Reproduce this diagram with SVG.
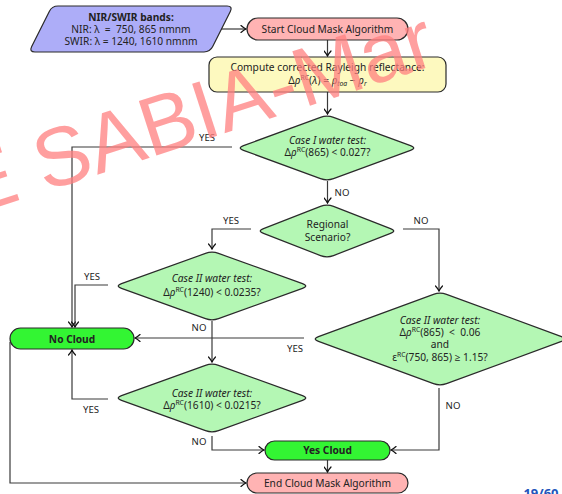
<svg xmlns="http://www.w3.org/2000/svg" width="562" height="494" viewBox="0 0 562 494">
<style>
text{font-family:"Noto Sans","Open Sans",sans-serif;font-size:10.2px;fill:#222;text-anchor:middle}
.b{font-weight:bold}
.i{font-style:italic}
.lbl{font-size:9.6px}
.sup{font-size:6.8px}
.dia{fill:#b4f7b4;stroke:#2a2a2a;stroke-width:1.2}
.pink{fill:#ffb3b3;stroke:#2a2a2a;stroke-width:1.2}
.green{fill:#33f533;stroke:#2a2a2a;stroke-width:1.2}
.con{fill:none;stroke:#3a3a3a;stroke-width:1.2}
.arr{marker-end:url(#ah)}
</style>
<defs>
<marker id="ah" viewBox="-6 -4 7 8" refX="0" refY="0" markerWidth="7" markerHeight="8" orient="auto" markerUnits="userSpaceOnUse">
<path d="M-5,-3.5 Q-2,-0.8 0,0 Q-2,0.8 -5,3.5" fill="none" stroke="#111" stroke-width="1.2" stroke-linecap="round"/>
</marker>
</defs>
<rect width="562" height="494" fill="#fff"/>

<g id="connectors">
<path class="con arr" d="M221,29 H246"/>
<path class="con arr" d="M327.5,40 V56"/>
<path class="con arr" d="M327.5,92 V114"/>
<path class="con arr" d="M232,147 H72 V327"/>
<path class="con arr" d="M327.5,181 V203"/>
<path class="con arr" d="M251,229 H212 V249"/>
<path class="con arr" d="M403,229 H439 V291"/>
<path class="con arr" d="M108,285 H75 V327"/>
<path class="con arr" d="M212,321 V362"/>
<path class="con arr" d="M304,338 H135"/>
<path class="con arr" d="M108,399 H72 V350"/>
<path class="con arr" d="M212,436 V450 H264"/>
<path class="con arr" d="M439,388 V450 H391"/>
<path class="con arr" d="M327.5,460 V472"/>
<path class="con arr" d="M10,342 V483 H246"/>
<text class="lbl" x="207" y="141">YES</text>
<text class="lbl" x="342" y="196">NO</text>
<text class="lbl" x="231" y="224">YES</text>
<text class="lbl" x="421" y="224">NO</text>
<text class="lbl" x="92" y="280">YES</text>
<text class="lbl" x="199" y="331">NO</text>
<text class="lbl" x="295" y="352">YES</text>
<text class="lbl" x="91" y="413">YES</text>
<text class="lbl" x="199" y="445">NO</text>
<text class="lbl" x="453" y="409">NO</text>
</g>

<g id="input">
<path d="M58,6 H227 Q233,6 230.3,11.4 L212.7,46.6 Q210,52 204,52 H35 Q29,52 31.7,46.6 L49.3,11.4 Q52,6 58,6 Z" fill="#adadf8" stroke="#2a2a2a" stroke-width="1.2"/>
<text class="b" x="131" y="21">NIR/SWIR bands:</text>
<text x="131" y="33">NIR: λ &#160;= &#160;750, 865 nmnm</text>
<text x="131" y="45">SWIR: λ = 1240, 1610 nmnm</text>
</g>

<g id="start">
<rect class="pink" x="247" y="18" width="161" height="22" rx="11"/>
<text x="327.5" y="32.5">Start Cloud Mask Algorithm</text>
</g>

<g id="compute">
<rect x="209" y="57" width="237" height="35" rx="8" fill="#fdf9bf" stroke="#2a2a2a" stroke-width="1.2"/>
<text x="327.5" y="70.5">Compute corrected Rayleigh reflectance:</text>
<text x="327.5" y="84">Δ<tspan class="i">ρ</tspan><tspan class="sup" dy="-4">RC</tspan><tspan dy="4">(</tspan><tspan class="i">λ</tspan>) = <tspan class="i">ρ</tspan><tspan class="sup i" dy="2">toa</tspan><tspan dy="-2"> − </tspan><tspan class="i">ρ</tspan><tspan class="sup i" dy="2">r</tspan></text>
</g>

<g id="case1">
<path class="dia" d="M333.5,117.4 L410.5,145.6 Q417,148 410.5,150.4 L333.5,178.6 Q327,181 320.5,178.6 L243.5,150.4 Q237,148 243.5,145.6 L320.5,117.4 Q327,115 333.5,117.4 Z"/>
<text class="i" x="327.5" y="143.5">Case I water test:</text>
<text x="327.5" y="156">Δ<tspan class="i">ρ</tspan><tspan class="sup" dy="-4">RC</tspan><tspan dy="4">(865) &lt; 0.027?</tspan></text>
</g>

<g id="regional">
<path class="dia" d="M333.5,206.4 L390.5,228.6 Q397,231 390.5,233.4 L333.5,255.6 Q327,258 320.5,255.6 L263.5,233.4 Q257,231 263.5,228.6 L320.5,206.4 Q327,204 333.5,206.4 Z"/>
<text x="327.5" y="227.5">Regional</text>
<text x="327.5" y="240.5">Scenario?</text>
</g>

<g id="case2-1240">
<path class="dia" d="M218.5,253.4 L302.5,283.6 Q309,286 302.5,288.4 L218.5,318.6 Q212,321 205.5,318.6 L121.5,288.4 Q115,286 121.5,283.6 L205.5,253.4 Q212,251 218.5,253.4 Z"/>
<text class="i" x="212" y="281.5">Case II water test:</text>
<text x="212" y="295.5">Δ<tspan class="i">ρ</tspan><tspan class="sup" dy="-4">RC</tspan><tspan dy="4">(1240) &lt; 0.0235?</tspan></text>
</g>

<g id="case2-1610">
<path class="dia" d="M218.5,365.4 L302.5,395.6 Q309,398 302.5,400.4 L218.5,430.6 Q212,433 205.5,430.6 L121.5,400.4 Q115,398 121.5,395.6 L205.5,365.4 Q212,363 218.5,365.4 Z"/>
<text class="i" x="212" y="396.5">Case II water test:</text>
<text x="212" y="408.5">Δ<tspan class="i">ρ</tspan><tspan class="sup" dy="-4">RC</tspan><tspan dy="4">(1610) &lt; 0.0215?</tspan></text>
</g>

<g id="case2-865">
<path class="dia" d="M446.5,294.4 L561.5,336.6 Q568,339 561.5,341.4 L446.5,383.6 Q440,386 433.5,383.6 L318.5,341.4 Q312,339 318.5,336.6 L433.5,294.4 Q440,292 446.5,294.4 Z"/>
<text class="i" x="440" y="323.5">Case II water test:</text>
<text x="440" y="336">Δ<tspan class="i">ρ</tspan><tspan class="sup" dy="-4">RC</tspan><tspan dy="4">(865) &#160;&lt; &#160;0.06</tspan></text>
<text x="440" y="348">and</text>
<text x="440" y="360.5">ε<tspan class="sup" dy="-4">RC</tspan><tspan dy="4">(750, 865) ≥ 1.15?</tspan></text>
</g>

<g id="nocloud">
<rect class="green" x="10" y="328" width="124" height="21" rx="10.5"/>
<text class="b" x="72" y="342.5">No Cloud</text>
</g>

<g id="yescloud">
<rect class="green" x="265" y="441" width="125" height="19" rx="9.5"/>
<text class="b" x="327.5" y="454">Yes Cloud</text>
</g>

<g id="end">
<rect class="pink" x="247" y="473" width="161" height="20" rx="10"/>
<text x="327.5" y="487">End Cloud Mask Algorithm</text>
</g>

<text x="541" y="498" style="font-size:13px;font-weight:bold;fill:#2255bb">19/60</text>

<text x="0" y="0" transform="translate(-30,216) rotate(-18)" style="font-family:'Liberation Sans',Arial,sans-serif;font-size:83px;fill:#ff7f7f;fill-opacity:0.75;text-anchor:start">E SABIA-Mar</text>
</svg>
